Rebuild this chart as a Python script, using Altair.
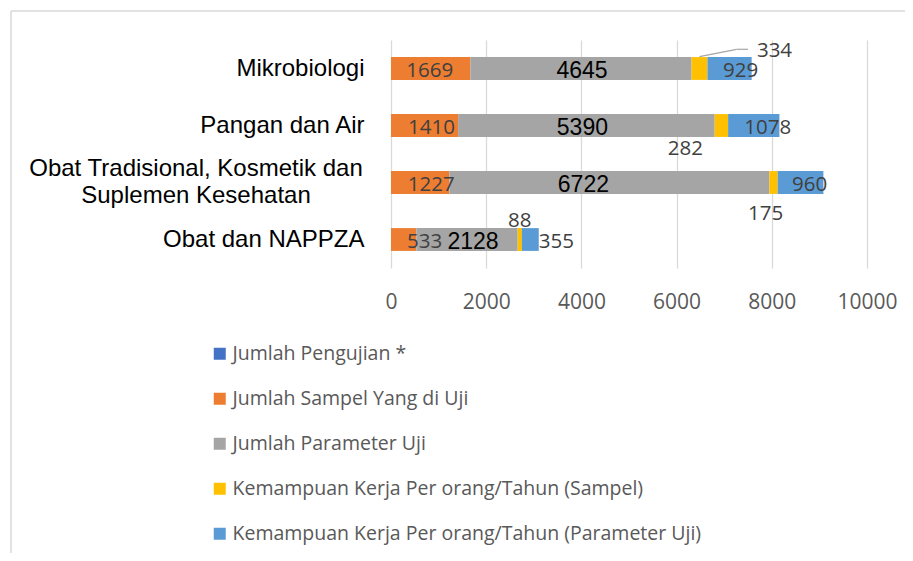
import altair as alt
import pandas as pd

categories = ["Mikrobiologi", "Pangan dan Air",
              "Obat Tradisional, Kosmetik dan Suplemen Kesehatan", "Obat dan NAPPZA"]
series = ["Jumlah Pengujian *", "Jumlah Sampel Yang di Uji", "Jumlah Parameter Uji",
          "Kemampuan Kerja Per orang/Tahun (Sampel)",
          "Kemampuan Kerja Per orang/Tahun (Parameter Uji)"]
sampel = [1669, 1410, 1227, 533]
parameter = [4645, 5390, 6722, 2128]
kk_sampel = [334, 282, 175, 88]
kk_param = [929, 1078, 960, 355]
x_ticks = [0, 2000, 4000, 6000, 8000, 10000]
colors = ["#4472C4", "#ED7D31", "#A5A5A5", "#FFC000", "#5B9BD5"]

rows = []
for ci, c in enumerate(categories):
    for si, vals in zip([1, 2, 3, 4], [sampel, parameter, kk_sampel, kk_param]):
        rows.append({"cat": c, "series": series[si], "order": si, "value": vals[ci], "ci": ci})
df = pd.DataFrame(rows)

# label nudges (dx, dy) in pixels, per series index and category index
nudge = {
    1: [(-1, 2), (7, 2), (11, 2), (21, 2)],
    2: [(1, 2), (-4, 2), (-26, 2), (6, 2)],
    3: [(75, -18), (-36, 23), (-8, 31), (0, -19)],
    4: [(11, 2), (14, 2), (9, 2), (26, 2)],
}

W, H = 476, 228
ysort = categories
yscale = alt.Scale(domain=categories, paddingInner=0.6, paddingOuter=0.3)
xscale = alt.Scale(domain=[0, 10000], nice=False)

bars = alt.Chart(df).mark_bar().encode(
    y=alt.Y("cat:N", sort=ysort, scale=yscale,
            axis=alt.Axis(title=None, ticks=False, domain=False, grid=False,
                          labelFont="Liberation Sans", labelFontSize=24, labelColor="#000000",
                          labelPadding=27, labelLimit=400,
                          labelExpr="datum.label == 'Obat Tradisional, Kosmetik dan Suplemen Kesehatan' ? '' : datum.label")),
    x=alt.X("value:Q", stack="zero", scale=xscale,
            axis=alt.Axis(title=None, values=x_ticks, ticks=False, domain=False,
                          gridColor="#D9D9D9", gridWidth=1.3,
                          labelFont="Open Sans", labelFontSize=21, labelColor="#595959",
                          labelPadding=23, format="d", labelFlush=False, labelOverlap=False)),
    color=alt.Color("series:N", scale=alt.Scale(domain=series, range=colors),
                    legend=alt.Legend(title=None, orient="none", legendX=-181, legendY=304,
                                      symbolType="square", symbolSize=144, symbolStrokeWidth=0,
                                      labelFont="Open Sans", labelFontSize=19.5, labelColor="#595959",
                                      labelOffset=3, rowPadding=24, labelLimit=700, padding=0)),
    order=alt.Order("order:Q"),
)

base = alt.Chart(df).transform_stack(
    stack="value", groupby=["cat"], sort=[alt.SortField("order")], as_=["x0", "x1"]
).transform_calculate(mid="(datum.x0 + datum.x1) / 2")

layers = [bars]
for si in [1, 2, 3, 4]:
    for ci in range(4):
        dx, dy = nudge[si][ci]
        if si == 2:
            mk = dict(font="Liberation Sans", fontSize=23, color="#000000")
        else:
            mk = dict(font="Open Sans", fontSize=20.5, color="#404040")
        t = base.transform_filter(
            f"datum.order == {si} && datum.ci == {ci}"
        ).mark_text(align="center", baseline="middle", dx=dx, dy=dy, **mk).encode(
            x=alt.X("mid:Q", scale=xscale),
            y=alt.Y("cat:N", sort=ysort, scale=yscale),
            text=alt.Text("value:Q", format="d"),
        )
        layers.append(t)

# leader line for the 334 label
lead = base.transform_filter("datum.order == 3 && datum.ci == 0")
layers.append(lead.mark_rule(color="#A6A6A6", strokeWidth=1.2, x2Offset=37,
                             yOffset=-11.8, y2Offset=-19.2).encode(
    x=alt.X("mid:Q", scale=xscale), x2="mid:Q",
    y=alt.Y("cat:N", sort=ysort, scale=yscale), y2="cat:N"))
layers.append(lead.mark_rule(color="#A6A6A6", strokeWidth=1.2, xOffset=37, x2Offset=48.5,
                             yOffset=-19.2).encode(
    x=alt.X("mid:Q", scale=xscale), x2="mid:Q",
    y=alt.Y("cat:N", sort=ysort, scale=yscale)))

# two-line category label, centred like the original
two = pd.DataFrame({"cat": [categories[2]],
                    "txt": ["Obat Tradisional, Kosmetik dan\nSuplemen Kesehatan"]})
layers.append(alt.Chart(two).mark_text(align="center", baseline="middle", lineBreak="\n",
                                       font="Liberation Sans", fontSize=24, color="#000000",
                                       lineHeight=27, dy=-13.5).encode(
    x=alt.value(-195), y=alt.Y("cat:N", sort=ysort, scale=yscale), text="txt:N"))

# chart frame
frame = pd.DataFrame({"k": [0]})
layers.append(alt.Chart(frame).mark_rule(color="#D9D9D9", strokeWidth=1.5).encode(
    x=alt.value(-380), x2=alt.value(560), y=alt.value(-29)))
layers.append(alt.Chart(frame).mark_rule(color="#D9D9D9", strokeWidth=1.5).encode(
    x=alt.value(-380), y=alt.value(-29), y2=alt.value(560)))

chart = alt.layer(*layers).properties(
    width=W, height=H,
    autosize=alt.AutoSizeParams(type="none"),
    padding={"left": 383, "top": 32, "right": 38, "bottom": 285},
).configure_view(stroke=None)

chart.save("out.html", embed_options={"renderer": "svg", "actions": False})
